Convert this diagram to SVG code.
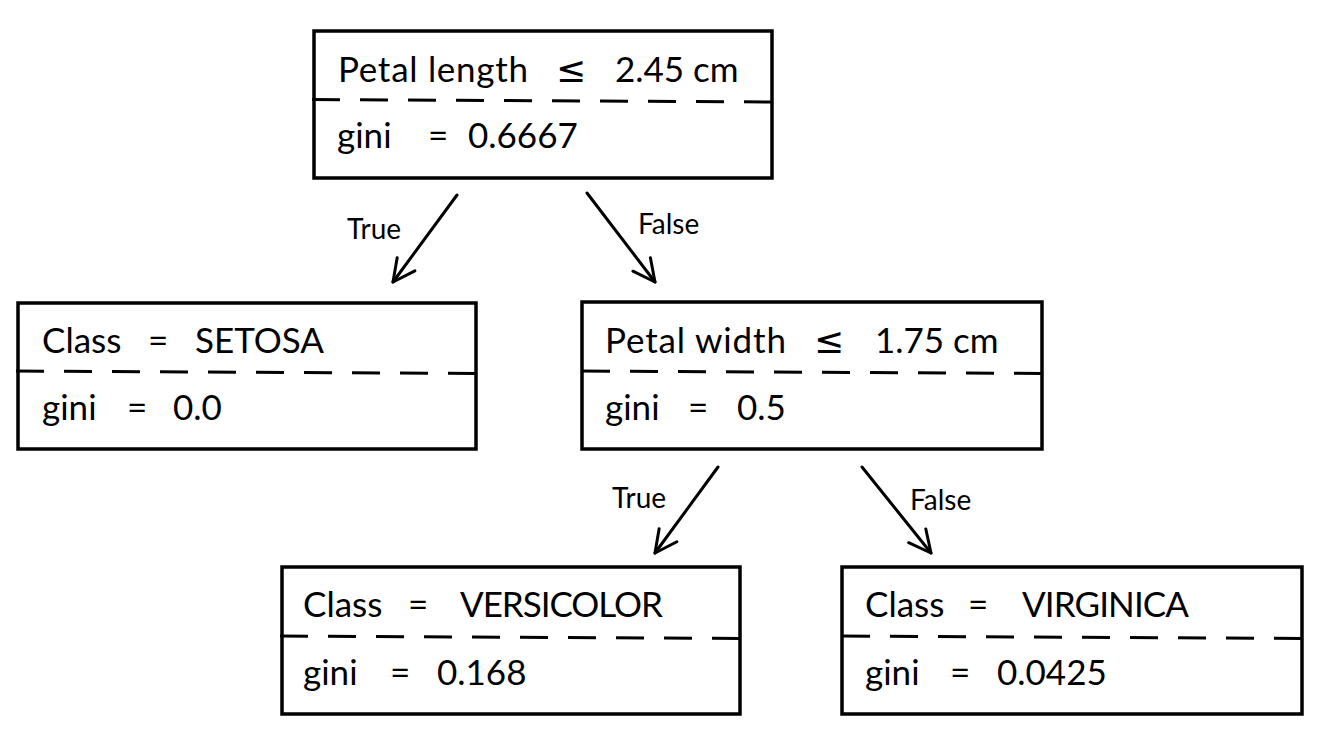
<svg xmlns="http://www.w3.org/2000/svg" width="1322" height="733" viewBox="0 0 1322 733">
<style>
.box{fill:#fff;stroke:#000;stroke-width:3.5}
.dash{stroke:#000;stroke-width:3;stroke-dasharray:28 20}
.t{font-family:Lato,"Open Sans","Liberation Sans",sans-serif;font-size:35px;fill:#000}
.le{font-family:"DejaVu Sans","Liberation Sans",sans-serif;font-size:36px}
.lbl{font-family:Lato,"Open Sans","Liberation Sans",sans-serif;font-size:28px;fill:#000}
.edge{stroke:#000;stroke-width:3;fill:none;stroke-linecap:round}
</style>
<defs>
<marker id="arr" markerUnits="userSpaceOnUse" viewBox="-26 -15 30 30" markerWidth="30" markerHeight="30" refX="0" refY="0" orient="auto">
<path d="M-22,-11 L0,0 L-22,11" fill="none" stroke="#000" stroke-width="3" stroke-linecap="round" stroke-linejoin="round"/>
</marker>
</defs>
<rect width="1322" height="733" fill="#fff"/>
<g id="connectors">
<line class="edge" x1="457" y1="195" x2="393" y2="282" marker-end="url(#arr)"/>
<line class="edge" x1="587" y1="193" x2="655" y2="282" marker-end="url(#arr)"/>
<line class="edge" x1="718" y1="467" x2="655" y2="553" marker-end="url(#arr)"/>
<line class="edge" x1="862" y1="467" x2="931" y2="553" marker-end="url(#arr)"/>
<text class="lbl" x="347" y="239">True</text>
<text class="lbl" x="638" y="234">False</text>
<text class="lbl" x="612" y="508">True</text>
<text class="lbl" x="910" y="510">False</text>
</g>
<g id="root">
<rect class="box" x="314" y="31" width="458" height="147"/>
<line class="dash" x1="772" y1="102" x2="310" y2="99.5"/>
<text class="t" y="82"><tspan x="338" textLength="190">Petal length</tspan><tspan class="le" x="556">≤</tspan><tspan x="615">2.45 cm</tspan></text>
<text class="t" y="148"><tspan x="337">gini</tspan><tspan x="428">=</tspan><tspan x="468">0.6667</tspan></text>
</g>
<g id="setosa">
<rect class="box" x="18" y="303" width="458" height="146"/>
<line class="dash" x1="476" y1="373.5" x2="14" y2="371"/>
<text class="t" y="353"><tspan x="42">Class</tspan><tspan x="148">=</tspan><tspan x="195">SETOSA</tspan></text>
<text class="t" y="420"><tspan x="42">gini</tspan><tspan x="127">=</tspan><tspan x="173">0.0</tspan></text>
</g>
<g id="petal-width">
<rect class="box" x="582" y="302" width="460" height="147"/>
<line class="dash" x1="1042" y1="373.5" x2="578" y2="371"/>
<text class="t" y="353"><tspan x="605" textLength="181">Petal width</tspan><tspan class="le" x="814">≤</tspan><tspan x="875">1.75 cm</tspan></text>
<text class="t" y="420"><tspan x="605">gini</tspan><tspan x="688">=</tspan><tspan x="737">0.5</tspan></text>
</g>
<g id="versicolor">
<rect class="box" x="282" y="567" width="458" height="147"/>
<line class="dash" x1="740" y1="638.5" x2="278" y2="636"/>
<text class="t" y="617"><tspan x="303">Class</tspan><tspan x="408">=</tspan><tspan x="460" textLength="203">VERSICOLOR</tspan></text>
<text class="t" y="685"><tspan x="303">gini</tspan><tspan x="390">=</tspan><tspan x="437">0.168</tspan></text>
</g>
<g id="virginica">
<rect class="box" x="842" y="567" width="460" height="147"/>
<line class="dash" x1="1302" y1="638.5" x2="838" y2="636"/>
<text class="t" y="617"><tspan x="865">Class</tspan><tspan x="968">=</tspan><tspan x="1022" textLength="167">VIRGINICA</tspan></text>
<text class="t" y="685"><tspan x="865">gini</tspan><tspan x="950">=</tspan><tspan x="997">0.0425</tspan></text>
</g>
</svg>
